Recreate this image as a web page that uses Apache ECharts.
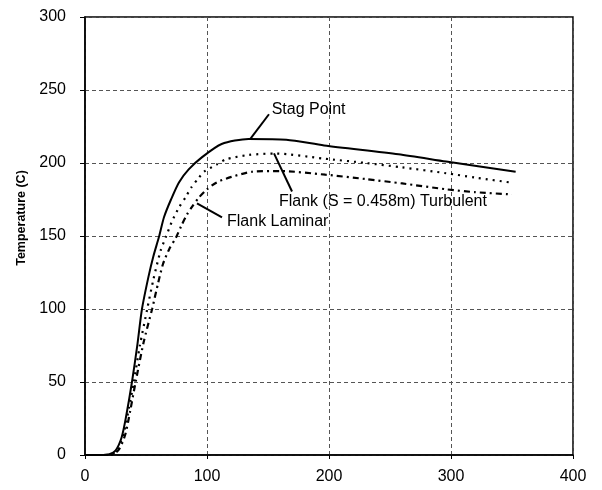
<!DOCTYPE html>
<html><head><meta charset="utf-8">
<script src="https://cdn.jsdelivr.net/npm/echarts@6/dist/echarts.min.js"></script>
<style>html,body{margin:0;padding:0;background:#fff}#c{width:602px;height:490px}</style>
</head><body><div id="c"></div>
<script>
// Data (time, temperature)
const stagPoint = [[0,0],[15,0],[20,0.5],[25,3],[30,12],[33.6,26],[38.5,50],[43,76],[46.7,100],[52,122],[56,136],[60.7,149.6],[64.8,163],[70.5,175],[77,186.7],[85,195.6],[96,204],[112,213],[134,216.5],[165,216],[196,212],[257,206],[296,201],[353,194]];
const flankTurbulent = [[0,0],[15,0],[22,0.5],[27,4],[32,16],[36,32],[40,50],[45,75],[51,100],[56,120],[62,140],[66.4,149.6],[71.3,160],[77,169.5],[82.8,177],[86.9,183],[93.4,190],[97.5,194],[108,199],[115.6,202.5],[134,205.5],[156,206.5],[196,203],[230,200],[260,197],[296,193],[320,190],[350,186.5]];
const flankLaminar = [[0,0],[15,0],[23,0.5],[28,4],[33,14],[37,30],[41.5,50],[48,77],[55,100],[60,118],[64,131],[69,141],[74.6,149],[78.7,156.5],[83.6,164.7],[87.7,170],[93.4,176.4],[100,182],[108,186.7],[120,190.5],[137,194],[160,194.5],[197,192],[230,189],[260,186],[296,182],[320,180],[350,178.5]];
const xTicks = [0,100,200,300,400];
const yTicks = [0,50,100,150,200,250,300];
// annotations: [text, textX, textY, fromX, fromY, toX, toY] in data units
const notes = [
  ['Stag Point', 153, 236.8, 150.8, 233.4, 135.2, 216.2],
  ['Flank (S = 0.458m) Turbulent', 159, 173.6, 169.7, 180.5, 154.9, 206.6],
  ['Flank Laminar', 116.4, 159.9, 112.3, 162.7, 91.8, 172.3]
];

const chart = echarts.init(document.getElementById('c'));
const font = 'Liberation Sans, Arial, sans-serif';
const gridLine = {show:true, lineStyle:{color:'#555', type:[4,3], width:1}};
chart.setOption({
  animation:false,
  grid:{left:85, right:29, top:17, bottom:35, show:true, borderColor:'#000', borderWidth:1.5},
  xAxis:{type:'value', min:xTicks[0], max:xTicks[xTicks.length-1], interval:100,
    axisLine:{show:true, onZero:false, lineStyle:{color:'#000', width:1.5}},
    axisTick:{show:true, length:4, lineStyle:{color:'#000'}},
    axisLabel:{color:'#000', fontSize:16, fontFamily:font, margin:14},
    splitLine:gridLine},
  yAxis:{type:'value', min:yTicks[0], max:yTicks[yTicks.length-1], interval:50,
    name:'Temperature (C)', nameLocation:'middle', nameGap:57,
    nameTextStyle:{color:'#000', fontSize:12.5, fontFamily:font, fontWeight:'bold', padding:[0,0,0,36]},
    axisLine:{show:true, lineStyle:{color:'#000', width:1.5}},
    axisTick:{show:true, length:5, lineStyle:{color:'#000'}},
    axisLabel:{color:'#000', fontSize:16, fontFamily:font, margin:19},
    splitLine:gridLine},
  series:[
    {name:'Stag Point', type:'line', data:stagPoint, showSymbol:false, smooth:0.25,
      lineStyle:{color:'#000', width:2}},
    {name:'Flank Turbulent', type:'line', data:flankTurbulent, showSymbol:false, smooth:0.25,
      lineStyle:{color:'#000', width:2.2, type:[2,5]}},
    {name:'Flank Laminar', type:'line', data:flankLaminar, showSymbol:false, smooth:0.25,
      lineStyle:{color:'#000', width:2.2, type:[6,4,2,4]}}
  ]
});
const g = [];
notes.forEach(n => {
  const t = chart.convertToPixel({gridIndex:0}, [n[1], n[2]]);
  const a = chart.convertToPixel({gridIndex:0}, [n[3], n[4]]);
  const b = chart.convertToPixel({gridIndex:0}, [n[5], n[6]]);
  g.push({type:'line', shape:{x1:a[0], y1:a[1], x2:b[0], y2:b[1]}, style:{stroke:'#000', lineWidth:2}});
  g.push({type:'text', x:t[0], y:t[1], style:{text:n[0], fill:'#000', font:'16px ' + font, verticalAlign:'middle'}});
});
chart.setOption({graphic:g});
</script></body></html>
